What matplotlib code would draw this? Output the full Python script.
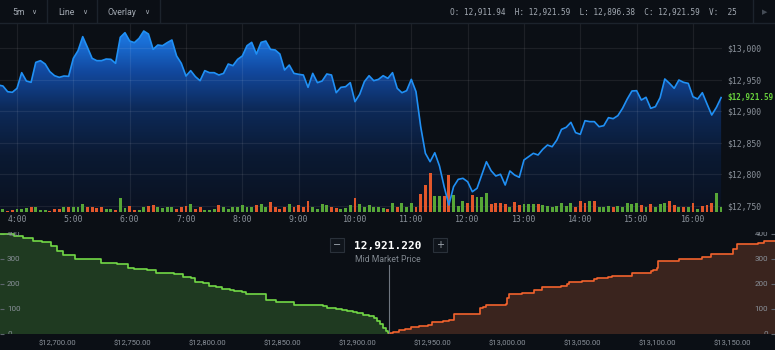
import matplotlib
matplotlib.use("Agg")
import matplotlib.pyplot as plt
import numpy as np
from matplotlib.colors import LinearSegmentedColormap
from matplotlib.patches import Rectangle
from matplotlib.lines import Line2D
from matplotlib.transforms import blended_transform_factory

plt.rcParams['font.family'] = ['Roboto', 'DejaVu Sans']
MONO = 'DejaVu Sans Mono'

# ---- 5m line chart data (close per bar, starting 3:40) ----
start_min = 3 * 60 + 40
closes = [
    12941.5, 12939.9, 12930.9, 12929.9, 12936.2, 12961.0, 12947.8, 12945.7, 12977.3, 12980.0,
    12974.7, 12962.6, 12956.2, 12953.6, 12955.7, 12955.2, 12983.7, 12995.8, 13018.0, 13001.1,
    12983.7, 12980.0, 12980.0, 12982.6, 12982.1, 12975.8, 13016.9, 13024.3, 13011.1, 13008.5,
    13015.3, 13026.9, 13022.2, 12997.9, 13004.8, 13003.7, 13008.5, 13012.7, 12987.4, 12975.8,
    12955.7, 12964.2, 12954.7, 12948.3, 12964.2, 12961.0, 12961.0, 12957.3, 12959.9, 12974.7,
    12972.1, 12982.1, 12987.4, 13003.7, 13009.0, 12990.5, 13009.0, 13011.1, 12997.9, 12996.9,
    12990.5, 12965.2, 12973.1, 12959.9, 12958.4, 12957.3, 12937.8, 12959.9, 12945.2, 12947.8,
    12958.9, 12957.3, 12929.3, 12937.8, 12938.8, 12945.2, 12915.1, 12926.7, 12946.8, 12956.2,
    12948.3, 12950.4, 12956.2, 12952.0, 12961.0, 12936.2, 12929.3, 12932.5, 12950.4, 12930.9,
    12875.5, 12833.4, 12820.1, 12834.3, 12813.3, 12780.5, 12751.6, 12780.5, 12792.2, 12793.8,
    12788.4, 12772.6, 12778.0, 12799.0, 12820.1, 12805.8, 12797.5, 12800.2, 12783.2, 12805.4,
    12799.0, 12795.4, 12822.8, 12828.0, 12833.4, 12830.7, 12839.7, 12846.5, 12843.8, 12854.4,
    12871.3, 12874.5, 12882.4, 12866.1, 12863.4, 12885.0, 12883.5, 12883.5, 12875.5, 12877.1,
    12889.8, 12888.2, 12893.0, 12904.6, 12919.3, 12932.0, 12932.5, 12917.7, 12922.0, 12904.6,
    12907.2, 12921.4, 12951.0, 12944.1, 12936.2, 12949.4, 12945.7, 12944.1, 12923.0, 12919.3,
    12929.3, 12911.4, 12894.0, 12906.1, 12921.59,
]
volumes = [
    16,
    20, 8, 12, 16, 20, 22, 28, 28, 12, 10,
    8, 16, 16, 32, 28, 28, 32, 50, 32, 28,
    24, 28, 16, 16, 10, 82, 24, 36, 12, 10,
    28, 38, 40, 28, 24, 28, 28, 16, 32, 36,
    50, 18, 32, 12, 12, 16, 40, 28, 16, 28,
    32, 40, 28, 32, 40, 48, 32, 58, 28, 16,
    28, 48, 28, 40, 28, 68, 32, 20, 48, 40,
    32, 24, 16, 24, 42, 84, 48, 28, 40, 28,
    28, 24,
    16, 56, 28, 52, 28, 52, 32, 108, 160, 236,
    96, 96, 96, 220, 104, 36, 68, 56, 102, 88,
    88, 112, 48, 56, 56, 46, 32, 58, 40, 46,
    48, 48, 48, 44, 36, 32, 36, 56, 36, 56,
    32, 64, 56, 68, 64, 32, 32, 36, 32, 36,
    32, 56, 48, 56, 44, 32, 48, 28, 48, 52,
    68, 40, 28, 32, 32, 52, 16, 36, 44, 52,
    112, 28,
]
# G = up bar, R = down bar
bar_dir = ("R"
           "GRRGGGRGGG" "RRRGRGGGRR" "RRGGRGGRRG" "GRRGGGGRRR"
           "GRRGGGRGGG" "GGGGRGGRRR" "RGRRRRGGGG" "RRGGGRGGGG" "GG"
           "RGRGGGRRRR" "GGRRGGGRRG" "GGRRRRGRRG" "GGRGGGGGGG"
           "RRRGRGGGRG" "GGGGRGRGGG" "RRGRGRGRRR" "GG")

ohlc = {'O': 12911.94, 'H': 12921.59, 'L': 12896.38, 'C': 12921.59}
last_volume = 25

# ---- order book depth ----
mid_price = 12921.22
bid_prices = [12661.8, 12671, 12677, 12684, 12690, 12696, 12700, 12704, 12712, 12729,
              12740, 12747, 12751, 12760, 12766, 12778, 12784, 12789, 12792, 12797,
              12801, 12806, 12810, 12815, 12818, 12823, 12826, 12839, 12843, 12846,
              12852, 12858, 12868, 12877, 12880, 12886, 12890, 12893, 12897, 12900,
              12904, 12908, 12911, 12913, 12915, 12917, 12919, 12920.5, 12921.22]
bid_depth = [398, 392, 382, 372, 366, 350, 332, 315, 298, 282,
             278, 264, 258, 253, 242, 239, 228, 222, 205, 202,
             191, 187, 181, 176, 171, 169, 158, 137, 134, 129,
             126, 116, 114, 112, 105, 100, 96, 92, 86, 82,
             76, 70, 62, 50, 40, 25, 12, 3, 0]
ask_prices = [12921.22, 12921.5, 12924, 12928, 12932, 12936, 12941, 12947, 12949.6, 12950,
              12957, 12961, 12964.5, 12981.5, 12984, 12985.6, 12993, 12999, 13000, 13001,
              13010, 13016, 13018, 13023.4, 13036, 13040, 13041, 13050, 13058, 13060,
              13067, 13070, 13083.4, 13096, 13097.4, 13099.6, 13100.7, 13114.5, 13129.6, 13136,
              13150.7, 13153, 13167, 13171, 13185]
ask_depth = [0, 4, 9, 14, 20, 26, 30, 36, 41, 49,
             53, 57, 78, 102, 108, 116, 117, 120, 142, 158,
             162, 165, 174, 189, 193, 198, 208, 211, 218, 224,
             228, 232, 244, 250, 255, 262, 289, 297, 307, 317,
             339, 357, 361, 371, 374]

BG = '#0b0f15'
GRID = '#1c232c'
TXT = '#8a919a'
W, H = 775, 350


def fx(px):
    return px / W


def fy(py):
    return 1 - py / H


fig = plt.figure(figsize=(7.75, 3.5), dpi=100, facecolor=BG)

# ---- header bar ----
for xs in [47, 97, 160, 753]:
    fig.add_artist(Line2D([fx(xs), fx(xs)], [fy(0), fy(22)], color=GRID, lw=1))
fig.add_artist(Line2D([0, 1], [fy(22.5), fy(22.5)], color=GRID, lw=1))
for label, x_lab, x_chev in [("5m", 12, 34), ("Line", 58, 84.5), ("Overlay", 108, 146.5)]:
    fig.text(fx(x_lab), fy(12.5), label, color='#a3aab3', fontsize=6.3, va='center', ha='left')
    fig.text(fx(x_chev), fy(12), "∨", color='#a3aab3', fontsize=5, va='center', ha='center',
             family='DejaVu Sans')
head = "O: {O:,.2f}  H: {H:,.2f}  L: {L:,.2f}  C: {C:,.2f}  V:  {V}".format(V=last_volume, **ohlc)
fig.text(fx(450), fy(12.5), head, color='#a3aab3', fontsize=5.6, family=MONO, va='center', ha='left')
fig.text(fx(765), fy(12.5), "▶", color='#454c56', fontsize=5, family='DejaVu Sans', va='center', ha='center')

# ---- price chart ----
t = (start_min + 5 * np.arange(len(closes))) / 60
x0 = 4 - 17 / 56.33
x1 = x0 + 722 / 56.33
y0, y1 = 12740.5, 13039.6

ax = fig.add_axes([0, fy(212), fx(722), (212 - 23) / H])
ax.set_facecolor(BG)
cmap = LinearSegmentedColormap.from_list(
    'fade', [(0.0, '#0a1120'), (0.3, '#0b1a33'), (0.55, '#0d2a5a'),
             (0.75, '#1249a0'), (0.9, '#1a6fd6'), (1.0, '#1c7ce8')])
fill = ax.fill_between(t, closes, y0, facecolor='none', edgecolor='none')
grad = ax.imshow(np.linspace(0, 1, 256).reshape(-1, 1), cmap=cmap, origin='lower',
                 aspect='auto', extent=[x0 - 1, x1 + 1, y0, y1], zorder=1)
grad.set_clip_path(fill.get_paths()[0], transform=ax.transData)

axv = ax.twinx()
bar_colors = ['#57a637' if d == 'G' else '#e2572b' for d in bar_dir]
axv.bar(t, volumes, width=0.62 / 12, color=bar_colors, zorder=2)
axv.plot(t, closes, color='#2090f5', lw=1.2, transform=ax.transData, zorder=3,
         solid_joinstyle='round')
axv.set_ylim(0, 1134)
axv.set_axis_off()

ax.set_xticks(range(4, 17))
ax.set_xticklabels([f"{h}:00" for h in range(4, 17)])
ax.set_yticks(range(12750, 13001, 50))
ax.set_yticklabels([f"${v:,}" for v in range(12750, 13001, 50)])
ax.yaxis.tick_right()
ax.tick_params(axis='y', labelright=True, labelleft=False)
ax.grid(True, color='white', alpha=0.075, lw=0.9)
ax.tick_params(axis='both', length=0, colors=TXT, labelsize=5.9)
ax.tick_params(axis='x', pad=2)
ax.tick_params(axis='y', pad=3.6)
for lbl in ax.get_xticklabels() + ax.get_yticklabels():
    lbl.set_family(MONO)
for sp in ax.spines.values():
    sp.set_visible(False)
ax.text(1 + 5 / 722, closes[-1], f"${closes[-1]:,.2f}",
        transform=blended_transform_factory(ax.transAxes, ax.transData),
        color='#68d23c', fontweight='bold', family=MONO, fontsize=5.5, va='center', ha='left')
ax.set_xlim(x0, x1)
ax.set_ylim(y0, y1)

# ---- depth chart ----
axd = fig.add_axes([0, fy(334), 1, (334 - 232) / H])
axd.set_facecolor(BG)
axd.fill_between(bid_prices, bid_depth, step='post', color='#1f3a21', lw=0)
axd.step(bid_prices, bid_depth, where='post', color='#72d846', lw=1.2)
axd.fill_between(ask_prices, ask_depth, step='post', color='#3a241e', lw=0)
axd.step(ask_prices, ask_depth, where='post', color='#f2622d', lw=1.2)
axd.axvline(mid_price, ymin=0, ymax=0.68, color='#6f7680', lw=0.8)
axd.set_xlim(12661.8, 13178.5)
axd.set_ylim(0, 406)
xt = np.arange(12700, 13151, 50)
axd.set_xticks(xt)
axd.set_xticklabels([f"${v:,.2f}" for v in xt])
axd.tick_params(axis='x', length=0, pad=4, labelsize=5.5, colors=TXT)
depth_ticks = [0, 100, 200, 300, 400]
axd.set_yticks(depth_ticks)
axd.tick_params(axis='y', direction='in', length=3, width=0.8, color='#5e656e',
                left=True, right=True, labelleft=False, labelright=False)
tr = blended_transform_factory(axd.transAxes, axd.transData)
for v in depth_ticks:
    axd.text(7 / W, v, str(v), transform=tr, ha='left', va='center', fontsize=5.8,
             color=TXT, clip_on=True)
    axd.text(768 / W, v, str(v), transform=tr, ha='right', va='center', fontsize=5.8,
             color=TXT, clip_on=True)
for sp in axd.spines.values():
    sp.set_visible(False)

# ---- mid market widget ----
for bx, sym in [(330, "−"), (433, "+")]:
    fig.add_artist(Rectangle((fx(bx), fy(252)), fx(14), 14 / H, transform=fig.transFigure,
                             facecolor='#10151c', edgecolor='#2a313a', lw=0.8))
    fig.text(fx(bx + 7), fy(245), sym, color='#a3aab3', fontsize=7, ha='center', va='center',
             family='DejaVu Sans')
fig.text(fx(388), fy(245.5), f"{mid_price:,.3f}", color='white', fontsize=8, fontweight='bold',
         family=MONO, ha='center', va='center')
fig.text(fx(388), fy(259.5), "Mid Market Price", color='#80878f', fontsize=6.2,
         ha='center', va='center')

fig.savefig("out.png", dpi=100, facecolor=BG)
